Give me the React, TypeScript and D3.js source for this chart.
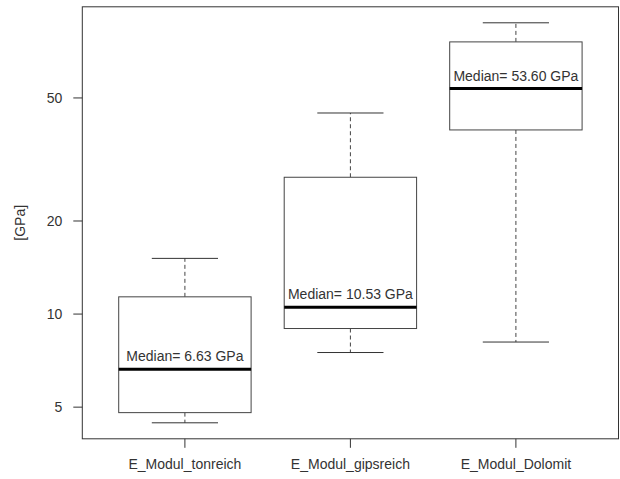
import { useEffect, useRef } from "react";
import * as d3 from "d3";

const width = 620;
const height = 479;

// box statistics (GPa)
const groups = ["E_Modul_tonreich", "E_Modul_gipsreich", "E_Modul_Dolomit"];
const whiskerLow = [4.45, 7.51, 8.12];
const q1 = [4.8, 8.98, 39.4];
const medians = [6.63, 10.53, 53.6];
const q3 = [11.37, 27.7, 75.9];
const whiskerHigh = [15.14, 44.7, 87.5];
const yTicks = [5, 10, 20, 50];

const plot = { left: 82.3, right: 618.5, top: 6.8, bottom: 438.8 };
const font = "Liberation Sans, Arial, sans-serif";

const App = () => {
  const chartRef = useRef<SVGSVGElement>(null);

  useEffect(() => {
    const svg = d3.select(chartRef.current);
    svg.selectAll("*").remove();

    // R-style axis extension: 4% of the range on each side
    const lo = Math.log10(d3.min(whiskerLow)!);
    const hi = Math.log10(d3.max(whiskerHigh)!);
    const pad = (hi - lo) * 0.04;
    const y = d3
      .scaleLog()
      .domain([10 ** (lo - pad), 10 ** (hi + pad)])
      .range([plot.bottom, plot.top]);
    const x = d3
      .scaleLinear()
      .domain([0.5 - 0.12, groups.length + 0.5 + 0.12])
      .range([plot.left, plot.right]);
    const boxW = x(1.8) - x(1);
    const capW = boxW / 2;

    const g = svg.append("g");

    groups.forEach((name, i) => {
      const cx = x(i + 1);
      const b = g.append("g");
      // whiskers
      b.append("line")
        .attr("x1", cx).attr("x2", cx)
        .attr("y1", y(q3[i])).attr("y2", y(whiskerHigh[i]))
        .attr("stroke", "#444").attr("stroke-dasharray", "4,3");
      b.append("line")
        .attr("x1", cx).attr("x2", cx)
        .attr("y1", y(q1[i])).attr("y2", y(whiskerLow[i]))
        .attr("stroke", "#444").attr("stroke-dasharray", "4,3");
      [whiskerHigh[i], whiskerLow[i]].forEach((v) => {
        b.append("line")
          .attr("x1", cx - capW / 2).attr("x2", cx + capW / 2)
          .attr("y1", y(v)).attr("y2", y(v))
          .attr("stroke", "#333");
      });
      // box
      b.append("rect")
        .attr("x", cx - boxW / 2)
        .attr("y", y(q3[i]))
        .attr("width", boxW)
        .attr("height", y(q1[i]) - y(q3[i]))
        .attr("fill", "white")
        .attr("stroke", "#444");
      // median
      b.append("line")
        .attr("x1", cx - boxW / 2).attr("x2", cx + boxW / 2)
        .attr("y1", y(medians[i])).attr("y2", y(medians[i]))
        .attr("stroke", "black").attr("stroke-width", 3);
      b.append("text")
        .attr("x", cx)
        .attr("y", y(medians[i]) - 8)
        .attr("text-anchor", "middle")
        .attr("font-family", font)
        .attr("font-size", 14)
        .attr("fill", "#333")
        .text(`Median= ${medians[i].toFixed(2)} GPa`);
    });

    // frame
    g.append("rect")
      .attr("x", plot.left)
      .attr("y", plot.top)
      .attr("width", plot.right - plot.left)
      .attr("height", plot.bottom - plot.top)
      .attr("fill", "none")
      .attr("stroke", "#333");

    // y axis
    const yAxis = g.append("g");
    yTicks.forEach((t) => {
      yAxis.append("line")
        .attr("x1", plot.left - 9).attr("x2", plot.left)
        .attr("y1", y(t)).attr("y2", y(t))
        .attr("stroke", "#333");
      yAxis.append("text")
        .attr("x", plot.left - 20)
        .attr("y", y(t))
        .attr("dy", "0.36em")
        .attr("text-anchor", "end")
        .attr("font-family", font)
        .attr("font-size", 14)
        .attr("fill", "#333")
        .text(t);
    });

    // x axis
    groups.forEach((name, i) => {
      g.append("line")
        .attr("x1", x(i + 1)).attr("x2", x(i + 1))
        .attr("y1", plot.bottom).attr("y2", plot.bottom + 9)
        .attr("stroke", "#333");
      g.append("text")
        .attr("x", x(i + 1))
        .attr("y", 469)
        .attr("text-anchor", "middle")
        .attr("font-family", font)
        .attr("font-size", 14)
        .attr("fill", "#333")
        .text(name);
    });

    g.append("text")
      .attr("transform", `translate(25,${(plot.top + plot.bottom) / 2}) rotate(-90)`)
      .attr("text-anchor", "middle")
      .attr("font-family", font)
      .attr("font-size", 14)
      .attr("fill", "#333")
      .text("[GPa]");
  }, []);

  return (
    <svg
      ref={chartRef}
      width={width}
      height={height}
      style={{ position: "absolute", left: 0, top: 0, background: "white" }}
    ></svg>
  );
};

export default App;
